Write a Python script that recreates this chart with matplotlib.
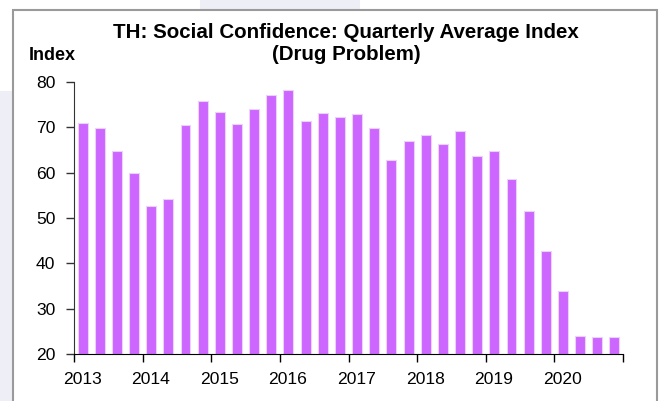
import numpy as np
import matplotlib
matplotlib.use("Agg")
import matplotlib.pyplot as plt
from matplotlib.patches import Rectangle

plt.rcParams['font.family'] = ['Liberation Sans', 'DejaVu Sans']

# Quarterly index, 2013Q1 .. 2020Q4
years = ["2013", "2014", "2015", "2016", "2017", "2018", "2019", "2020"]
values = [71.0, 69.8, 64.8, 59.9,
          52.6, 54.3, 70.6, 75.9,
          73.4, 70.7, 74.0, 77.2,
          78.2, 71.5, 73.1, 72.3,
          73.0, 69.9, 62.9, 67.0,
          68.4, 66.4, 69.3, 63.7,
          64.8, 58.7, 51.6, 42.8,
          34.0, 24.0, 23.75, 23.8]

W, H = 662, 401
fig = plt.figure(figsize=(W / 100, H / 100), dpi=100)
fig.patch.set_facecolor("white")

# faint background + frame
fig.patches.append(Rectangle((0, 0), 12 / W, 310 / H, transform=fig.transFigure,
                             facecolor="#eeeef7", edgecolor="none", zorder=-3))
fig.patches.append(Rectangle((200 / W, (H - 9) / H), 160 / W, 9 / H, transform=fig.transFigure,
                             facecolor="#eeeef7", edgecolor="none", zorder=-3))
fig.patches.append(Rectangle((12.5 / W, -0.05), 644 / W, 1.05 - 9.5 / H, transform=fig.transFigure,
                             facecolor="white", edgecolor="#9a9a9a", lw=1.5, zorder=-2))

ax = fig.add_axes([74 / W, 47 / H, 549 / W, 272 / H])
ax.set_facecolor("none")

x = np.arange(len(values)) + 0.5
ax.bar(x, np.array(values) - 20, bottom=20, width=0.58, color="#cc66ff",
       edgecolor="#ecd2fa", linewidth=0.8)

ax.set_xlim(0, len(values))
ax.set_ylim(20, 80)
ax.set_yticks(range(20, 81, 10))
ax.set_xticks(np.arange(0, len(values) + 1, 4))
ax.set_xticklabels([])
ax.set_xticks(np.arange(len(years)) * 4 + 0.47, minor=True)
ax.set_xticklabels(years, minor=True)

ax.tick_params(axis="x", which="major", length=6, width=1, direction="out", color="black")
ax.tick_params(axis="x", which="minor", length=0, pad=13, labelsize=12.6)
ax.tick_params(axis="y", length=5.5, width=1, pad=8, labelsize=12.6, color="#333333")

for s in ["top", "right"]:
    ax.spines[s].set_visible(False)
ax.spines["left"].set_color("#333333")
ax.spines["bottom"].set_color("black")

fig.text(346 / W, 1 - 32 / H, "TH: Social Confidence: Quarterly Average Index",
         ha="center", va="center", fontsize=14.8, fontweight="bold")
fig.text(346 / W, 1 - 54 / H, "(Drug Problem)",
         ha="center", va="center", fontsize=14.8, fontweight="bold")
fig.text(29 / W, 1 - 56 / H, "Index", ha="left", va="center",
         fontsize=13, fontweight="bold")

fig.savefig("out.png", dpi=100)
